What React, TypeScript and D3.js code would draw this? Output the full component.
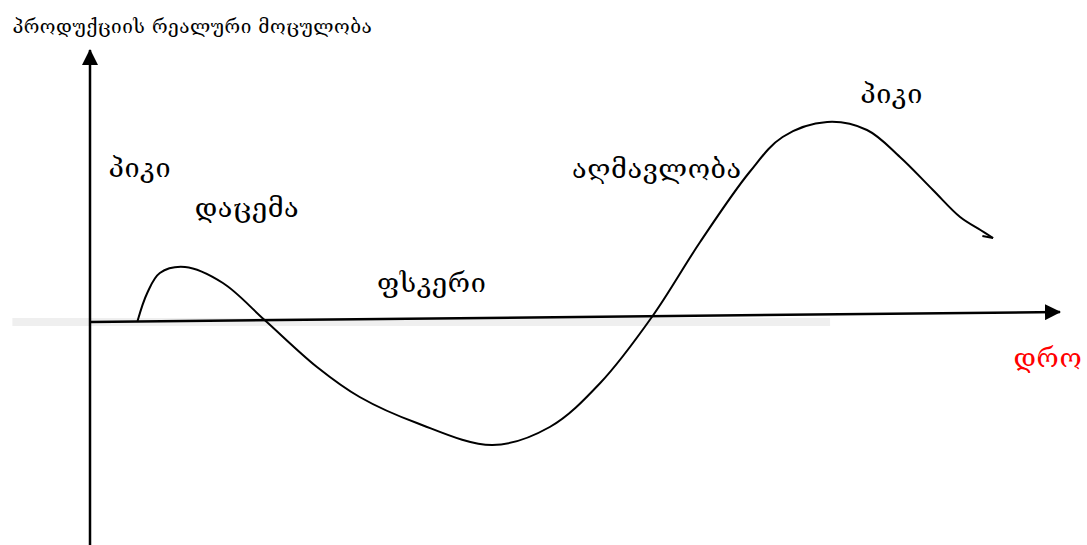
import React from "react";
import * as d3 from "d3";

// business cycle: time (t) vs real output (v), 0 = trend line
const cycleT = [4.9, 5.9, 7.2, 9.8, 13.7, 18.0, 23.4, 27.8, 33.7, 41.5, 47.4, 52.6, 58.0, 62.9, 68.0, 71.4, 76.0, 80.1, 83.5, 86.9, 89.7, 91.8, 93.1];
const cycleV = [0.5, 14.5, 24.5, 27.5, 19.5, 1, -22.5, -37.5, -50.5, -61.5, -52.5, -30.5, 3, 40, 75, 92.5, 100, 96, 82.5, 66, 52.5, 46, 42];
const hookT = [93.1, 92.0];
const hookV = [42, 43];

const axisT = [0, 100];
const axisV = [0, 5];
const bandT = [-8.0, 76.3];

const labelText = ["პიკი", "დაცემა", "ფსკერი", "აღმავლობა", "პიკი"];
const labelT = [1.9, 10.8, 29.6, 49.7, 79.4];
const labelV = [72.5, 52.5, 15, 72, 109.5];

const yTitle = "პროდუქციის რეალური მოცულობა";
const yTitleT = -8.0;
const yTitleV = 144.5;
const xTitle = "დრო";
const xTitleT = 95.2;
const xTitleV = -22.5;

const W = 1087;
const H = 545;

export default function App() {
  const x = d3.scaleLinear().domain([0, 100]).range([90, 1060]);
  const y = d3.scaleLinear().domain([-111.5, 136]).range([H, 50]);

  const pts = cycleT.map((t, i) => [t, cycleV[i]] as [number, number]);
  const line = d3
    .line<[number, number]>()
    .x((d) => x(d[0]))
    .y((d) => y(d[1]))
    .curve(d3.curveCatmullRom.alpha(0.5));
  const hook = d3
    .line<[number, number]>()
    .x((d) => x(d[0]))
    .y((d) => y(d[1]));

  const font = "'DejaVu Serif', serif";

  return (
    <svg width={W} height={H} style={{ position: "absolute", left: 0, top: 0 }}>
      <defs>
        <marker id="arr" markerUnits="userSpaceOnUse" markerWidth={16} markerHeight={16} refX={15} refY={8} orient="auto">
          <path d="M0,0 L16,8 L0,16 Z" fill="#000" />
        </marker>
      </defs>
      <rect x={x(bandT[0])} y={y(0) - 4} width={x(bandT[1]) - x(bandT[0])} height={8} fill="#efefef" />
      <line x1={x(0)} x2={x(0)} y1={H} y2={y(136)} stroke="#000" strokeWidth={2.5} markerEnd="url(#arr)" />
      <line x1={x(axisT[0])} y1={y(axisV[0])} x2={x(axisT[1])} y2={y(axisV[1])} stroke="#000" strokeWidth={2.5} markerEnd="url(#arr)" />
      <path d={line(pts) || ""} fill="none" stroke="#000" strokeWidth={2} />
      <path d={hook(hookT.map((t, i) => [t, hookV[i]] as [number, number])) || ""} fill="none" stroke="#000" strokeWidth={2} />
      {labelText.map((s, i) => (
        <text key={i} x={x(labelT[i])} y={y(labelV[i])} fontFamily={font} fontSize={27} letterSpacing={0.6} fill="#000">
          {s}
        </text>
      ))}
      <text x={x(yTitleT)} y={y(yTitleV)} fontFamily={font} fontSize={19} letterSpacing={0.5} fill="#000">
        {yTitle}
      </text>
      <text x={x(xTitleT)} y={y(xTitleV)} fontFamily={font} fontSize={27} letterSpacing={0.6} fill="#ff0000">
        {xTitle}
      </text>
    </svg>
  );
}
